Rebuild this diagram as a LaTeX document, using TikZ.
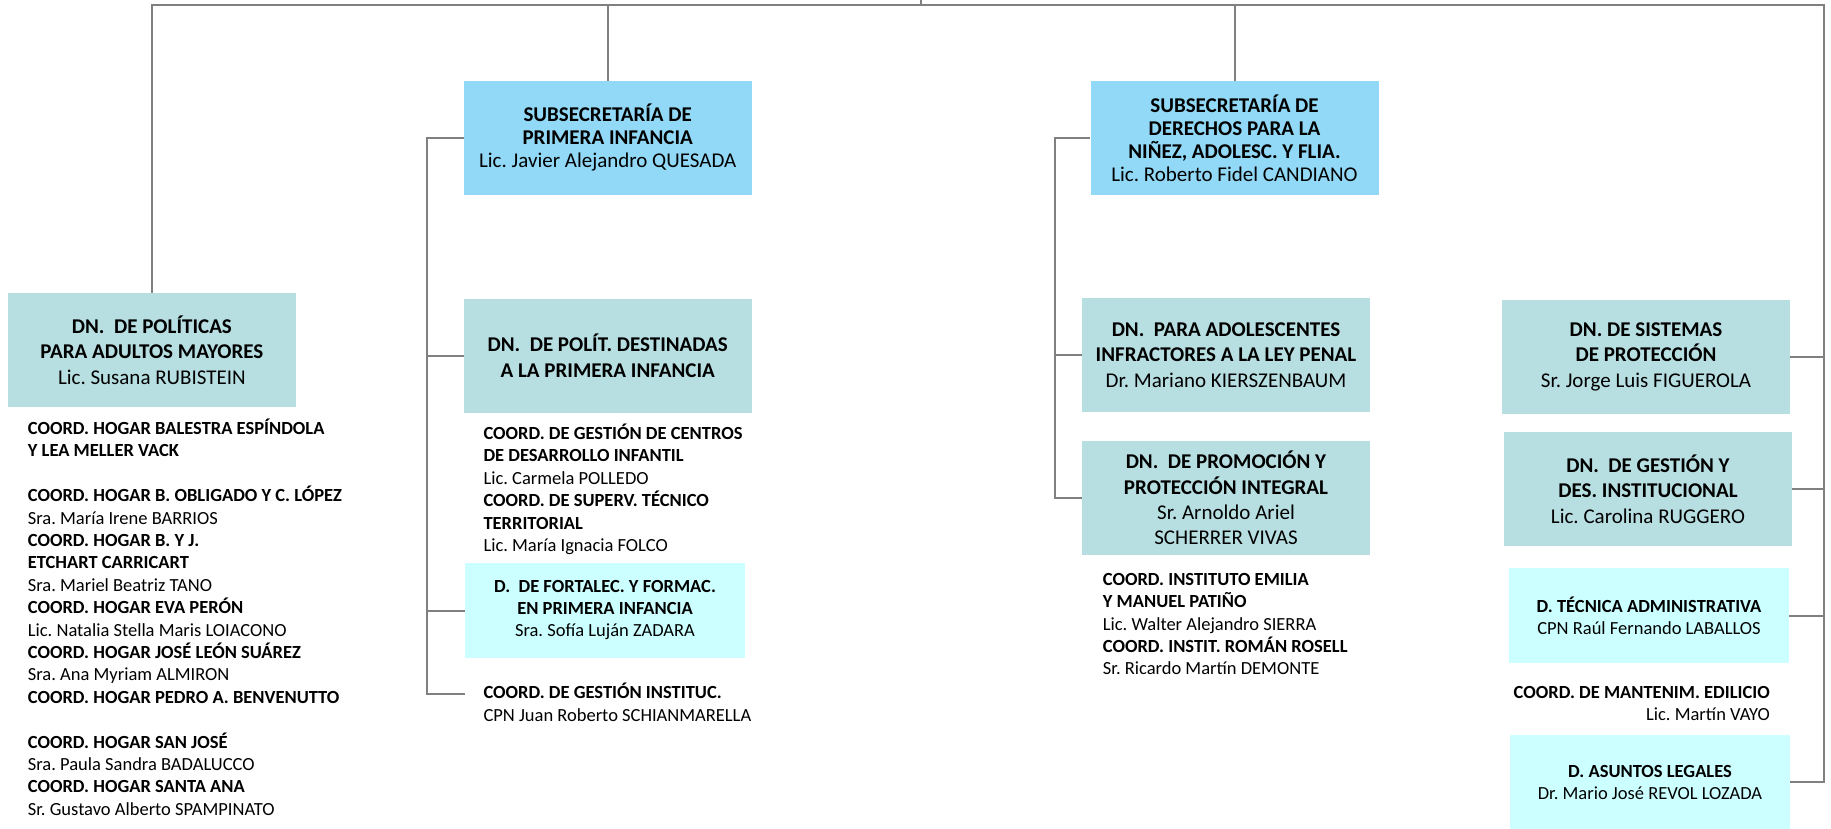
\documentclass[tikz,border=0pt]{standalone}
\usepackage{fontspec}
\setmainfont{Carlito}
\usepackage{tikz}
\usetikzlibrary{positioning}
\usepackage{xcolor}
\definecolor{subblue}{HTML}{91D9F7}
\definecolor{dnteal}{HTML}{B7DFE2}
\definecolor{dcyan}{HTML}{CCFFFF}
\definecolor{linegray}{HTML}{808080}
\tikzset{%
	subbox/.style={
		fill=subblue,
		minimum width=288pt,
		minimum height=113.7pt,
		inner sep=0pt,
		align=center,
		font=\fontsize{21}{23}\selectfont
	},
	dnbox/.style={
		fill=dnteal,
		minimum width=288pt,
		minimum height=113.7pt,
		inner sep=0pt,
		align=center,
		font=\fontsize{21}{25.5}\selectfont
	},
	dbox/.style={
		fill=dcyan,
		minimum width=280pt,
		minimum height=94.4pt,
		inner sep=0pt,
		align=center,
		font=\fontsize{18.5}{22}\selectfont
	},
	coordtext/.style={
		anchor=north west,
		inner sep=0pt,
		align=left,
		font=\fontsize{18.5}{22.4}\selectfont
	},
	link/.style={
		draw=linegray,
		line width=2pt
	},
}
\newcommand{\firstln}{\rule{0pt}{17pt}}
\frenchspacing

\begin{document}
\begin{tikzpicture}[x=1pt,y=-1pt]
	\useasboundingbox (0,0) rectangle (1831,829);
	
	% Subsecretarias
	\node[subbox] (subInfancia) at (607.7,137.9) {\textbf{SUBSECRETARÍA DE}\\\textbf{PRIMERA INFANCIA}\\Lic. Javier Alejandro QUESADA};
	\node[subbox] (subDerechos) at (1234.5,137.9) {\textbf{SUBSECRETARÍA DE}\\\textbf{DERECHOS PARA LA}\\\textbf{NIÑEZ, ADOLESC. Y FLIA.}\\Lic. Roberto Fidel CANDIANO};
	
	% Direcciones nacionales
	\node[dnbox] (dnAdultos) at (151.9,350) {\textbf{DN.~~DE POLÍTICAS}\\\textbf{PARA ADULTOS MAYORES}\\Lic. Susana RUBISTEIN};
	\node[dnbox] (dnInfancia) at (607.7,355.9) {\textbf{DN.~~DE POLÍT. DESTINADAS}\\\textbf{A LA PRIMERA INFANCIA}};
	\node[dnbox] (dnAdolesc) at (1226,354.9) {\textbf{DN.~~PARA ADOLESCENTES}\\\textbf{INFRACTORES A LA LEY PENAL}\\Dr. Mariano KIERSZENBAUM};
	\node[dnbox] (dnPromocion) at (1226,498) {\textbf{DN.~~DE PROMOCIÓN Y}\\\textbf{PROTECCIÓN INTEGRAL}\\Sr. Arnoldo Ariel\\SCHERRER VIVAS};
	\node[dnbox] (dnSistemas) at (1646,356.7) {\textbf{DN. DE SISTEMAS}\\\textbf{DE PROTECCIÓN}\\Sr. Jorge Luis FIGUEROLA};
	\node[dnbox] (dnGestion) at (1648,489) {\textbf{DN.~~DE GESTIÓN Y}\\\textbf{DES. INSTITUCIONAL}\\Lic. Carolina RUGGERO};
	
	% Direcciones
	\node[dbox] (dFortalec) at (605,610.5) {\textbf{D.~~DE FORTALEC. Y FORMAC.}\\\textbf{EN PRIMERA INFANCIA}\\Sra. Sofía Luján ZADARA};
	\node[dbox] (dTecnica) at (1649,615.5) {\textbf{D. TÉCNICA ADMINISTRATIVA}\\CPN Raúl Fernando LABALLOS};
	\node[dbox] (dLegales) at (1650,782) {\textbf{D. ASUNTOS LEGALES}\\Dr. Mario José REVOL LOZADA};
	
	% Coordinaciones
	\node[coordtext] (coAdultos) at (27.7,417.3) {\firstln\textbf{COORD. HOGAR BALESTRA ESPÍNDOLA}\\
		\textbf{Y LEA MELLER VACK}\\[22.4pt]
		\textbf{COORD. HOGAR B. OBLIGADO Y C. LÓPEZ}\\
		Sra. María Irene BARRIOS\\
		\textbf{COORD. HOGAR B. Y J.}\\
		\textbf{ETCHART CARRICART}\\
		Sra. Mariel Beatriz TANO\\
		\textbf{COORD. HOGAR EVA PERÓN}\\
		Lic. Natalia Stella Maris LOIACONO\\
		\textbf{COORD. HOGAR JOSÉ LEÓN SUÁREZ}\\
		Sra. Ana Myriam ALMIRON\\
		\textbf{COORD. HOGAR PEDRO A. BENVENUTTO}\\[22.4pt]
		\textbf{COORD. HOGAR SAN JOSÉ}\\
		Sra. Paula Sandra BADALUCCO\\
		\textbf{COORD. HOGAR SANTA ANA}\\
		Sr. Gustavo Alberto SPAMPINATO};
	\node[coordtext] (coCentros) at (483.3,422.3) {\firstln\textbf{COORD. DE GESTIÓN DE CENTROS}\\
		\textbf{DE DESARROLLO INFANTIL}\\
		Lic. Carmela POLLEDO\\
		\textbf{COORD. DE SUPERV. TÉCNICO}\\
		\textbf{TERRITORIAL}\\
		Lic. María Ignacia FOLCO};
	\node[coordtext] (coInstituc) at (483.3,681.7) {\firstln\textbf{COORD. DE GESTIÓN INSTITUC.}\\
		CPN Juan Roberto SCHIANMARELLA};
	\node[coordtext] (coInstitutos) at (1102.7,568) {\firstln\textbf{COORD. INSTITUTO EMILIA}\\
		\textbf{Y MANUEL PATIÑO}\\
		Lic. Walter Alejandro SIERRA\\
		\textbf{COORD. INSTIT. ROMÁN ROSELL}\\
		Sr. Ricardo Martín DEMONTE};
	\node[coordtext, anchor=north east, align=right] (coEdilicio) at (1770,681.3) {\firstln\textbf{COORD. DE MANTENIM. EDILICIO}\\
		Lic. Martín VAYO};
	
	% Bus lines
	\coordinate (top) at (921,0);
	\coordinate (bus) at (921,5);
	\coordinate (rail) at (1823.7,5);
	\coordinate (brInfancia) at (426.6,694);
	\coordinate (endInfancia) at (465,694);
	\coordinate (brDerechos) at (1054.5,0);
	
	\draw[link] (top) -- (bus);
	\draw[link] (dnAdultos.north) |- (bus) -- (rail) |- (dLegales.east);
	\draw[link] (subInfancia.north) -- (subInfancia.north |- bus);
	\draw[link] (subDerechos.north) -- (subDerechos.north |- bus);
	\draw[link] (dnSistemas.east) -- (dnSistemas.east -| rail);
	\draw[link] (dnGestion.east) -- (dnGestion.east -| rail);
	\draw[link] (dTecnica.east) -- (dTecnica.east -| rail);
	
	\draw[link] (subInfancia.west) -| (brInfancia) -- (endInfancia);
	\draw[link] (dnInfancia.west) -- (dnInfancia.west -| brInfancia);
	\draw[link] (dFortalec.west) -- (dFortalec.west -| brInfancia);
	
	\draw[link] (subDerechos.west) -| (brDerechos |- dnPromocion.west) -- (dnPromocion.west);
	\draw[link] (dnAdolesc.west) -- (dnAdolesc.west -| brDerechos);
\end{tikzpicture}
\end{document}
